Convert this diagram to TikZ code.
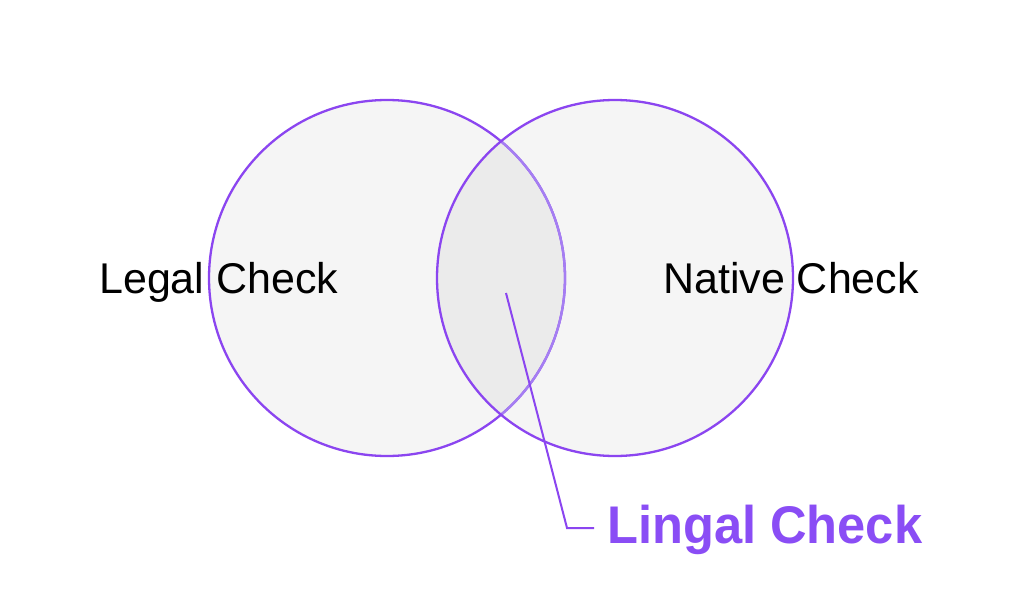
\documentclass[tikz,border=0pt]{standalone}
\usepackage{fontspec}
\setmainfont{Liberation Sans}
\definecolor{vpurple}{HTML}{8B45F0}
\definecolor{vlight}{HTML}{A57EF2}
\definecolor{vtext}{HTML}{8A4DF5}
\begin{document}
\begin{tikzpicture}[x=1pt,y=1pt,
  ring/.style={draw=vpurple,line width=2.3pt},
  lbl/.style={inner sep=0pt,anchor=base west,font=\fontsize{43}{48}\selectfont,text=black},
  leader/.style={draw=vpurple,line width=2pt}]
\useasboundingbox (0,0) rectangle (1024,614);
\fill[white] (0,0) rectangle (1024,614);
% fills
\fill[black,opacity=0.04] (387,336) circle[radius=178];
\fill[black,opacity=0.04] (615,336) circle[radius=178];
% left circle stroke
\draw[ring] (387,336) circle[radius=178];
\begin{scope}
  \clip (615,336) circle[radius=178];
  \draw[ring,draw=vlight] (387,336) circle[radius=178];
\end{scope}
\draw[ring] (615,336) circle[radius=178];
% labels
\node[lbl] (legal) at (99,321) {Legal Check};
\node[lbl] (native) at (663,321) {Native Check};
\node[inner sep=0pt,anchor=base west,text=vtext,font=\fontsize{53}{60}\selectfont\bfseries] (lingal) at (607,71) {\scalebox{0.955}[1]{Lingal Check}};
% leader
\coordinate (ls) at (506,321);
\coordinate (lb) at (567,86);
\coordinate (le) at (594,86);
\draw[leader,line join=miter] (ls) -- (lb) -- (le);
\end{tikzpicture}
\end{document}
